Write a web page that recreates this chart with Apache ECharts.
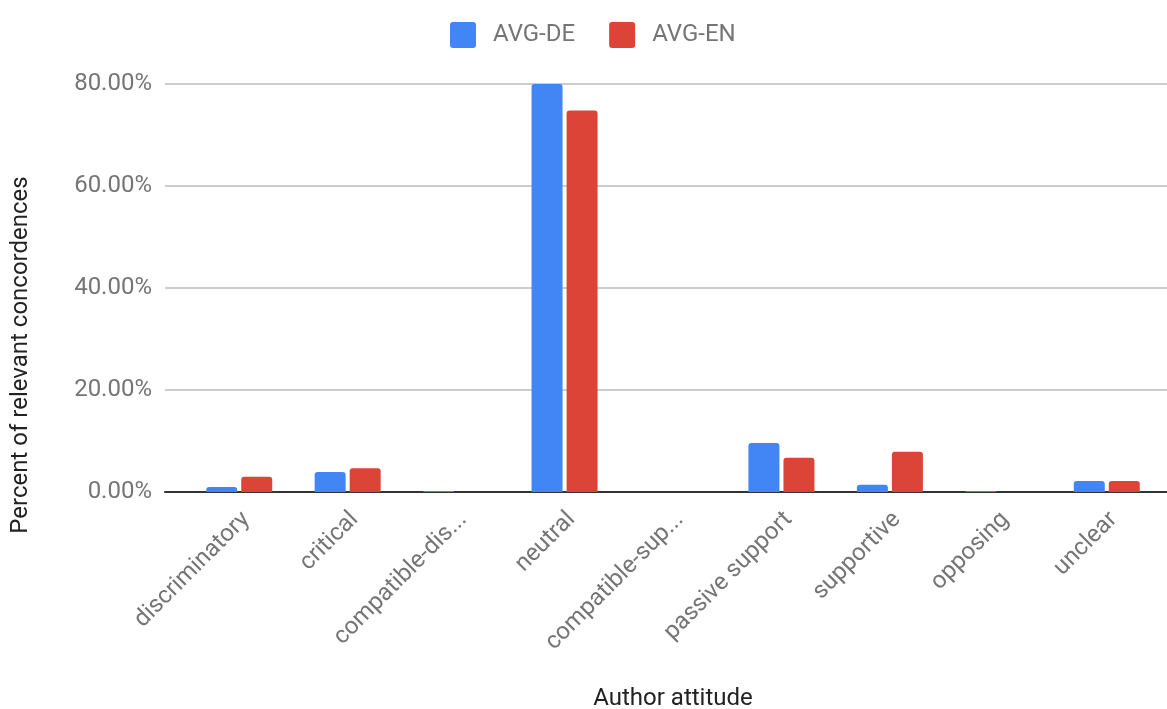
<!DOCTYPE html>
<html>
<head>
<meta charset="utf-8">
<script src="https://cdn.jsdelivr.net/npm/echarts@6/dist/echarts.min.js"></script>
<style>
  html, body { margin: 0; padding: 0; background: #fff; }
  #chart { width: 1167px; height: 709px; }
</style>
</head>
<body>
<div id="chart"></div>
<script>
// Author attitude categories
const categories = [
  'discriminatory', 'critical', 'compatible-discriminatory', 'neutral',
  'compatible-supportive', 'passive support', 'supportive', 'opposing', 'unclear'
];
// Percent of relevant concordences per category
const avgDE = [1.0, 3.9, 0.2, 80.5, 0.0, 9.6, 1.4, 0.2, 2.15];
const avgEN = [3.0, 4.65, 0.0, 74.8, 0.0, 6.7, 7.9, 0.0, 2.15];
const yTicks = { min: 0, max: 80, interval: 20 };

const FONT = 'Roboto, "Noto Sans", sans-serif';
const labelGray = '#757575';

const chart = echarts.init(document.getElementById('chart'), null, { renderer: 'canvas' });

const plotBox = { top: 84, bottom: 217, outerBoundsMode: 'none', containLabel: false };

chart.setOption({
  animation: false,
  textStyle: { fontFamily: FONT },
  color: ['#4285f4', '#db4437'],
  legend: {
    left: 445,
    top: 17,
    itemWidth: 26,
    itemHeight: 26,
    itemGap: 34,
    icon: 'path://M3,0 L23,0 Q26,0 26,3 L26,23 Q26,26 23,26 L3,26 Q0,26 0,23 L0,3 Q0,0 3,0 Z',
    textStyle: { fontSize: 24, color: labelGray, fontFamily: FONT, padding: [0, 0, 0, 12] },
    data: ['AVG-DE', 'AVG-EN']
  },
  grid: [
    // gridlines, tick labels and baseline span the full width
    Object.assign({ left: 165, right: 0 }, plotBox),
    // category bars
    Object.assign({ left: 185, width: 976 }, plotBox),
    // rotated category labels, hung slightly right of each bar group
    Object.assign({ left: 192, width: 976 }, plotBox)
  ],
  xAxis: [
    {
      gridIndex: 0, type: 'value', min: 0, max: 1,
      axisLine: { show: true, lineStyle: { color: '#333', width: 2 } },
      axisTick: { show: false }, axisLabel: { show: false }, splitLine: { show: false }
    },
    {
      gridIndex: 1, type: 'category', data: categories,
      axisLine: { show: false }, axisTick: { show: false }, axisLabel: { show: false },
      name: 'Author attitude',
      nameLocation: 'middle',
      nameGap: 195,
      nameTextStyle: { fontSize: 24, color: '#222', fontFamily: FONT }
    },
    {
      gridIndex: 2, type: 'category', data: categories,
      axisLine: { show: false }, axisTick: { show: false },
      axisLabel: {
        interval: 0, rotate: 45, margin: 24,
        fontSize: 24, color: labelGray, fontFamily: FONT,
        formatter: v => (v.length > 16 ? v.slice(0, 14) + '...' : v)
      }
    }
  ],
  yAxis: [
    {
      gridIndex: 0, type: 'value', min: yTicks.min, max: yTicks.max, interval: yTicks.interval,
      axisLine: { show: false }, axisTick: { show: false },
      axisLabel: {
        margin: 13, fontSize: 24, color: labelGray, fontFamily: FONT,
        formatter: v => v.toFixed(2) + '%'
      },
      splitLine: { show: true, lineStyle: { color: '#cccccc', width: 2 } }
    },
    {
      gridIndex: 1, type: 'value', min: yTicks.min, max: yTicks.max, interval: yTicks.interval,
      show: false, splitLine: { show: false }
    },
    {
      gridIndex: 2, type: 'value', min: yTicks.min, max: yTicks.max,
      show: false, splitLine: { show: false }
    }
  ],
  graphic: [
    {
      type: 'text',
      x: 21, y: 355,
      rotation: Math.PI / 2,
      style: {
        text: 'Percent of relevant concordences',
        fontSize: 24, fill: '#222', fontFamily: FONT,
        align: 'center', verticalAlign: 'middle'
      }
    }
  ],
  series: [
    {
      name: 'AVG-DE', type: 'bar', xAxisIndex: 1, yAxisIndex: 1,
      data: avgDE, barWidth: 31, barGap: '13%',
      itemStyle: { borderRadius: [3, 3, 0, 0] }
    },
    {
      name: 'AVG-EN', type: 'bar', xAxisIndex: 1, yAxisIndex: 1,
      data: avgEN, barWidth: 31, barGap: '13%',
      itemStyle: { borderRadius: [3, 3, 0, 0] }
    }
  ]
});
</script>
</body>
</html>
